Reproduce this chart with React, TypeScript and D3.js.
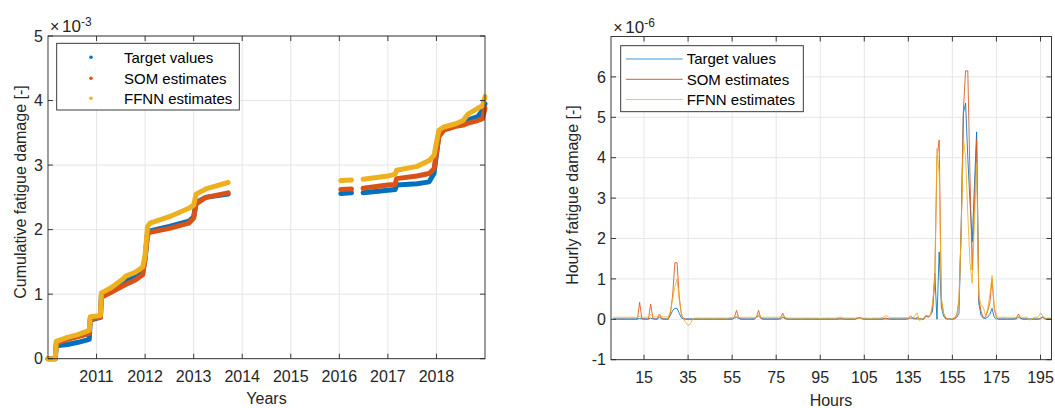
import * as d3 from "d3";

const FONT = "'Liberation Sans', Arial, Helvetica, sans-serif";
const AX = "#262626";
const GRID = "#e6e6e6";
const C_TARGET = "#0072BD";
const C_SOM = "#D95319";
const C_FFNN = "#EDB120";

const seriesNames = ["Target values", "SOM estimates", "FFNN estimates"];
const seriesColors = [C_TARGET, C_SOM, C_FFNN];

// left panel: cumulative damage (x1e-3), null = no data (gap)
const cumYears = [
  2010.0, 2010.15, 2010.17, 2010.4, 2010.6, 2010.85, 2010.87, 2011.08, 2011.1, 2011.3,
  2011.55, 2011.6, 2011.8, 2011.95, 2012.0, 2012.05, 2012.1, 2012.5, 2012.9, 2013.0,
  2013.05, 2013.25, 2013.71, 2014.0, 2016.03, 2016.25, 2016.3, 2016.49, 2017.0, 2017.15,
  2017.18, 2017.6, 2017.85, 2017.95, 2018.05, 2018.15, 2018.4, 2018.55, 2018.65, 2018.85,
  2018.95, 2019.0,
];
const cumTarget = [
  0, 0, 0.2, 0.22, 0.25, 0.3, 0.6, 0.64, 1.0, 1.08,
  1.18, 1.2, 1.27, 1.33, 1.55, 1.95, 1.98, 2.05, 2.13, 2.2,
  2.42, 2.5, 2.55, null, 2.56, 2.57, null, 2.57, 2.61, 2.62,
  2.69, 2.71, 2.74, 2.87, 3.46, 3.55, 3.63, 3.67, 3.7, 3.75,
  3.85, 3.95,
];
const cumSom = [
  0, 0, 0.24, 0.3, 0.34, 0.39, 0.62, 0.64, 0.95, 1.03,
  1.13, 1.15, 1.22, 1.3, 1.55, 1.92, 1.96, 2.02, 2.1, 2.18,
  2.4, 2.5, 2.57, null, 2.62, 2.63, null, 2.64, 2.69, 2.7,
  2.79, 2.83, 2.87, 2.94, 3.44, 3.54, 3.6, 3.62, 3.65, 3.69,
  3.72, 3.88,
];
const cumFfnn = [
  0, 0, 0.27, 0.33, 0.37, 0.44, 0.65, 0.67, 1.02, 1.1,
  1.24, 1.28, 1.34, 1.42, 1.6, 2.05, 2.1, 2.2, 2.33, 2.38,
  2.55, 2.63, 2.73, null, 2.76, 2.77, null, 2.78, 2.83, 2.86,
  2.92, 2.98, 3.07, 3.15, 3.54, 3.59, 3.64, 3.69, 3.79, 3.88,
  3.92, 4.06,
];
const yearTicks = [2011, 2012, 2013, 2014, 2015, 2016, 2017, 2018];
const cumYTicks = [0, 1, 2, 3, 4, 5];

// right panel: hourly damage (x1e-6), hours 1..200
const hourlyTarget = [
  0.01, 0.01, 0.01, 0.01, 0.01, 0.01, 0.01, 0.01, 0.01, 0.01,
  0.01, 0.01, 0.02, 0.01, 0.01, 0.01, 0.01, 0.03, 0.01, 0.01,
  0.01, 0.05, 0.01, 0.01, 0.01, 0.01, 0.1, 0.22, 0.27, 0.27,
  0.15, 0.03, 0.01, 0.01, 0.01, 0.01, 0.01, 0.01, 0.01, 0.01,
  0.01, 0.01, 0.01, 0.01, 0.01, 0.01, 0.01, 0.01, 0.01, 0.01,
  0.01, 0.01, 0.01, 0.01, 0.01, 0.03, 0.05, 0.02, 0.01, 0.01,
  0.01, 0.01, 0.01, 0.01, 0.01, 0.05, 0.08, 0.03, 0.01, 0.01,
  0.01, 0.01, 0.01, 0.01, 0.01, 0.01, 0.01, 0.05, 0.02, 0.01,
  0.01, 0.01, 0.01, 0.01, 0.01, 0.01, 0.01, 0.01, 0.01, 0.01,
  0.01, 0.01, 0.01, 0.01, 0.01, 0.01, 0.01, 0.01, 0.01, 0.01,
  0.01, 0.01, 0.01, 0.01, 0.01, 0.01, 0.01, 0.01, 0.01, 0.01,
  0.01, 0.03, 0.04, 0.02, 0.01, 0.01, 0.01, 0.01, 0.01, 0.01,
  0.01, 0.01, 0.01, 0.01, 0.01, 0.01, 0.01, 0.01, 0.01, 0.01,
  0.01, 0.01, 0.01, 0.01, 0.01, 0.03, 0.02, 0.01, 0.01, 0.01,
  0.01, 0.01, 0.1, 0.06, 0.1, 0.2, 1.14, 0.0, 1.67, 0.3,
  0.08, 0.01, 0.01, 0.01, 0.01, 0.01, 0.05, 0.15, 2.3, 5.1,
  5.35, 4.0, 2.9, 1.92, 3.3, 4.64, 0.4, 0.1, 0.03, 0.02,
  0.05, 0.12, 0.27, 0.05, 0.01, 0.01, 0.01, 0.01, 0.01, 0.01,
  0.01, 0.01, 0.01, 0.01, 0.05, 0.02, 0.01, 0.01, 0.01, 0.01,
  0.01, 0.01, 0.01, 0.01, 0.01, 0.06, 0.01, 0.01, 0.01, 0.01,
];
const hourlySom = [
  0, 0, 0, 0, 0, 0, 0, 0, 0, 0,
  0, 0, 0.42, 0.02, 0, 0, 0, 0.38, 0.03, 0,
  0, 0.13, 0.02, 0, 0, 0, 0.15, 0.6, 1.4, 1.4,
  0.55, 0.1, 0.02, 0, 0, 0, 0, 0, 0, 0,
  0, 0, 0, 0, 0, 0, 0, 0, 0, 0,
  0, 0, 0, 0, 0, 0.05, 0.22, 0.03, 0, 0,
  0, 0, 0, 0, 0, 0.05, 0.22, 0.03, 0, 0,
  0, 0, 0, 0, 0, 0, 0.03, 0.15, 0.02, 0,
  0, 0, 0, 0, 0, 0, 0, 0, 0, 0,
  0, 0, 0, 0, 0, 0, 0, 0, 0, 0,
  0, 0, 0, 0.02, 0.01, 0, 0, 0, 0, 0,
  0, 0.03, 0.04, 0.01, 0, 0, 0, 0, 0, 0,
  0, 0, 0, 0.02, 0.03, 0.01, 0, 0, 0, 0,
  0, 0, 0, 0, 0.03, 0.08, 0.04, 0.02, 0.05, 0.02,
  0, 0, 0.08, 0.05, 0.1, 0.3, 0.9, 4.0, 4.44, 0.5,
  0.15, 0.03, 0, 0, 0, 0.02, 0.1, 0.48, 2.2, 5.2,
  6.15, 6.15, 3.5, 1.22, 2.8, 4.45, 0.5, 0.2, 0.05, 0.05,
  0.2, 0.4, 1.0, 0.25, 0.05, 0, 0, 0, 0, 0,
  0, 0, 0, 0.03, 0.13, 0.03, 0, 0, 0, 0,
  0, 0, 0, 0, 0.03, 0.05, 0.01, 0, 0, 0,
];
const hourlyFfnn = [
  0.05, 0.05, 0.05, 0.05, 0.05, 0.05, 0.05, 0.05, 0.05, 0.05,
  0.05, 0.05, 0.07, 0.05, 0.05, 0.05, 0.06, 0.12, 0.06, 0.06,
  0.06, 0.13, 0.06, 0.06, 0.06, 0.06, 0.2, 0.5, 0.8, 1.0,
  0.45, 0.15, 0.0, -0.08, -0.15, -0.12, 0.0, 0.03, 0.03, 0.03,
  0.03, 0.03, 0.03, 0.03, 0.03, 0.03, 0.03, 0.03, 0.03, 0.03,
  0.03, 0.03, 0.03, 0.04, 0.04, 0.05, 0.08, 0.04, 0.05, 0.05,
  0.05, 0.05, 0.05, 0.05, 0.05, 0.05, 0.12, 0.05, 0.05, 0.05,
  0.05, 0.05, 0.05, 0.05, 0.05, 0.05, 0.06, 0.1, 0.06, 0.03,
  0.03, 0.03, 0.03, 0.03, 0.03, 0.03, 0.03, 0.03, 0.03, 0.03,
  0.03, 0.03, 0.03, 0.03, 0.02, 0.03, 0.03, 0.03, 0.03, 0.03,
  0.03, 0.03, 0.04, 0.06, 0.04, 0.03, 0.03, 0.03, 0.03, 0.03,
  0.03, 0.04, 0.03, 0.03, 0.03, 0.03, 0.03, 0.02, 0.03, 0.03,
  0.03, 0.03, 0.04, 0.06, 0.09, 0.06, 0.04, 0.04, 0.04, 0.04,
  0.04, 0.04, 0.04, 0.04, 0.03, 0.03, 0.05, 0.08, 0.16, -0.03,
  0.0, 0.03, 0.1, 0.08, 0.1, 0.4, 1.0, 4.23, 3.6, 0.5,
  0.15, 0.05, 0.0, 0.0, 0.02, 0.05, 0.12, 0.45, 2.2, 4.48,
  4.0, 2.6, 1.4, 0.89, 2.4, 3.86, 0.6, 0.35, 0.3, 0.1,
  0.25, 0.6, 1.08, 0.3, 0.08, 0.05, 0.05, 0.05, 0.05, 0.05,
  0.05, 0.05, 0.05, 0.05, 0.08, 0.05, 0.05, 0.05, 0.05, -0.02,
  0.0, 0.05, 0.05, 0.05, 0.16, 0.08, 0.03, 0.03, 0.03, 0.03,
];
const hourTicks = [15, 35, 55, 75, 95, 115, 135, 155, 175, 195];
const hourTickLabels = ["15", "35", "55", "75", "95", "105", "135", "155", "175", "195"];
const hourlyYTicks = [-1, 0, 1, 2, 3, 4, 5, 6];

const TICK = 5;

function Grid({ x, y, xTicks, yTicks }: any) {
  const [x0, x1] = x.range();
  const [y0, y1] = y.range();
  return (
    <g>
      {xTicks.map((t: number) => (
        <line key={"gx" + t} x1={x(t)} x2={x(t)} y1={y0} y2={y1} stroke={GRID} strokeWidth={1} />
      ))}
      {yTicks.map((t: number) => (
        <line key={"gy" + t} x1={x0} x2={x1} y1={y(t)} y2={y(t)} stroke={GRID} strokeWidth={1} />
      ))}
    </g>
  );
}

function Axes({ x, y, xTicks, yTicks, xLabels, yLabels }: any) {
  const [x0, x1] = x.range();
  const [y0, y1] = y.range();
  return (
    <g fontFamily={FONT} fill={AX}>
      <rect x={x0} y={y1} width={x1 - x0} height={y0 - y1} fill="none" stroke={AX} strokeWidth={0.9} />
      {xTicks.map((t: number, i: number) => (
        <g key={"tx" + t}>
          <line x1={x(t)} x2={x(t)} y1={y0} y2={y0 - TICK} stroke={AX} strokeWidth={0.9} />
          <line x1={x(t)} x2={x(t)} y1={y1} y2={y1 + TICK} stroke={AX} strokeWidth={0.9} />
          <text x={x(t)} y={y0 + 23} fontSize={16} textAnchor="middle">{xLabels[i]}</text>
        </g>
      ))}
      {yTicks.map((t: number, i: number) => (
        <g key={"ty" + t}>
          <line x1={x0} x2={x0 + TICK} y1={y(t)} y2={y(t)} stroke={AX} strokeWidth={0.9} />
          <line x1={x1} x2={x1 - TICK} y1={y(t)} y2={y(t)} stroke={AX} strokeWidth={0.9} />
          <text x={x0 - 5} y={y(t)} dy="0.36em" fontSize={16} textAnchor="end">{yLabels[i]}</text>
        </g>
      ))}
    </g>
  );
}

function Exponent({ x, y, exp }: { x: number; y: number; exp: string }) {
  return (
    <g fontFamily={FONT} fill={AX}>
      <text x={x} y={y} fontSize={16}>×</text>
      <text x={x + 12} y={y} fontSize={17}>10</text>
      <text x={x + 31} y={y - 6} fontSize={12}>{exp}</text>
    </g>
  );
}

export default function App() {
  // left panel
  const xL = d3.scaleLinear().domain([2010, 2019]).range([48, 485]);
  const yL = d3.scaleLinear().domain([0, 5]).range([358.7, 36]);
  const cumSeries = [cumTarget, cumSom, cumFfnn];
  const lineL = (vals: (number | null)[]) =>
    d3
      .line<number>()
      .defined((_, i) => vals[i] != null)
      .x((d) => xL(d))
      .y((_, i) => yL(vals[i] as number))(cumYears);

  // right panel
  const hours = d3.range(1, 201);
  const xR = d3.scaleLinear().domain([0, 200]).range([611, 1051.5]);
  const yR = d3.scaleLinear().domain([-1, 7]).range([359.7, 36.5]);
  const hourlySeries = [hourlyTarget, hourlySom, hourlyFfnn];
  const lineR = (vals: number[]) =>
    d3
      .line<number>()
      .x((d) => xR(d))
      .y((_, i) => yR(vals[i]))(hours);

  const legL = { x: 56.7, y: 43.3, w: 182.6, h: 66.7 };
  const legR = { x: 620.7, y: 45.7, w: 182.6, h: 66 };
  const rowsL = [57.3, 78.3, 98.3];
  const rowsR = [59, 79.3, 99.5];

  return (
    <svg width={1055} height={408} style={{ position: "absolute", left: 0, top: 0, background: "#fff" }}>
      <rect width={1055} height={408} fill="#fff" />

      {/* left: cumulative fatigue damage */}
      <Grid x={xL} y={yL} xTicks={yearTicks} yTicks={cumYTicks} />
      <g fill="none" strokeLinejoin="round" strokeLinecap="round">
        {cumSeries.map((s, i) => (
          <path key={i} d={lineL(s) || ""} stroke={seriesColors[i]} strokeWidth={5} />
        ))}
      </g>
      <Axes
        x={xL}
        y={yL}
        xTicks={yearTicks}
        yTicks={cumYTicks}
        xLabels={yearTicks.map(String)}
        yLabels={cumYTicks.map(String)}
      />
      <Exponent x={50} y={31.5} exp="-3" />
      <text
        transform={`translate(26,192) rotate(-90)`}
        textAnchor="middle"
        fontFamily={FONT}
        fontSize={16}
        fill={AX}
      >
        Cumulative fatigue damage [-]
      </text>
      <text x={266.5} y={404} textAnchor="middle" fontFamily={FONT} fontSize={16} fill={AX}>
        Years
      </text>
      <g fontFamily={FONT} fontSize={15} fill="#000">
        <rect x={legL.x} y={legL.y} width={legL.w} height={legL.h} fill="#fff" stroke={AX} strokeWidth={0.9} />
        {seriesNames.map((n, i) => (
          <g key={n}>
            <circle cx={91} cy={rowsL[i]} r={1.8} fill={seriesColors[i]} />
            <text x={124} y={rowsL[i]} dy="0.36em">{n}</text>
          </g>
        ))}
      </g>

      {/* right: hourly fatigue damage */}
      <Grid x={xR} y={yR} xTicks={hourTicks} yTicks={hourlyYTicks} />
      <g fill="none" strokeLinejoin="round">
        {hourlySeries.map((s, i) => (
          <path key={i} d={lineR(s) || ""} stroke={seriesColors[i]} strokeWidth={1} strokeOpacity={0.85} />
        ))}
      </g>
      <Axes
        x={xR}
        y={yR}
        xTicks={hourTicks}
        yTicks={hourlyYTicks}
        xLabels={hourTickLabels}
        yLabels={hourlyYTicks.map(String)}
      />
      <Exponent x={613.3} y={33} exp="-6" />
      <text
        transform={`translate(578,195) rotate(-90)`}
        textAnchor="middle"
        fontFamily={FONT}
        fontSize={16}
        fill={AX}
      >
        Hourly fatigue damage [-]
      </text>
      <text x={831} y={406} textAnchor="middle" fontFamily={FONT} fontSize={16} fill={AX}>
        Hours
      </text>
      <g fontFamily={FONT} fontSize={15} fill="#000">
        <rect x={legR.x} y={legR.y} width={legR.w} height={legR.h} fill="#fff" stroke={AX} strokeWidth={0.9} />
        {seriesNames.map((n, i) => (
          <g key={n}>
            <line x1={626} x2={682.7} y1={rowsR[i]} y2={rowsR[i]} stroke={seriesColors[i]} strokeWidth={1.2} strokeOpacity={0.75} />
            <text x={686.7} y={rowsR[i]} dy="0.36em">{n}</text>
          </g>
        ))}
      </g>
    </svg>
  );
}
